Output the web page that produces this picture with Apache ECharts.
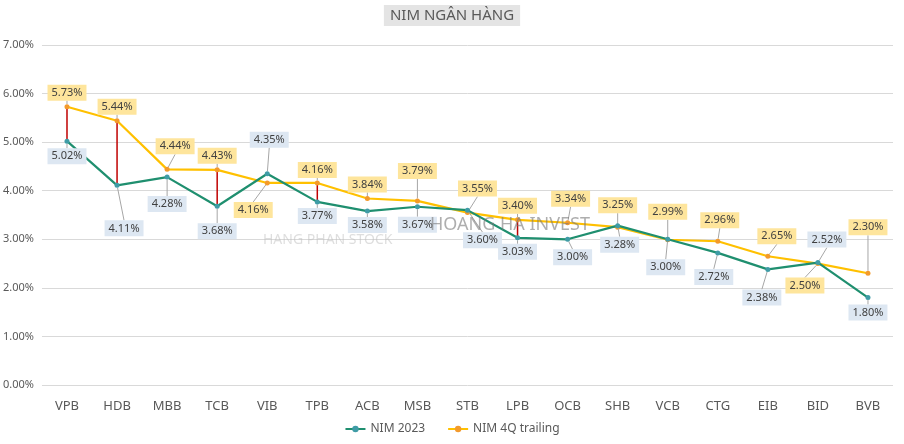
<!DOCTYPE html>
<html><head><meta charset="utf-8">
<script src="https://cdn.jsdelivr.net/npm/echarts@6/dist/echarts.min.js"></script>
<style>html,body{margin:0;padding:0;background:#fff}#c{width:904px;height:444px}</style>
</head><body><div id="c"></div>
<script>
var categories = ['VPB','HDB','MBB','TCB','VIB','TPB','ACB','MSB','STB','LPB','OCB','SHB','VCB','CTG','EIB','BID','BVB'];
var nim2023 = [5.02,4.11,4.28,3.68,4.35,3.77,3.58,3.67,3.60,3.03,3.00,3.28,3.00,2.72,2.38,2.52,1.80];
var nim4q = [5.73,5.44,4.44,4.43,4.16,4.16,3.84,3.79,3.55,3.40,3.34,3.25,2.99,2.96,2.65,2.50,2.30];
var highlighted = ['VPB','HDB','TCB','TPB','LPB'];
var yTicks = [0,1,2,3,4,5,6,7];

// label offsets (px) from each point
var offGreen = [[0,15],[7,43],[0,27],[0,25],[2,-34],[0,14],[0,14],[0,18],[15,30],[0,14],[5,18],[2,19],[-2,28],[-4,24],[-6,28],[9,-23],[0,15]];
var offYellow = [[0,-14],[0,-14],[8,-23],[0,-14],[-14,27],[0,-13],[0,-14],[0,-30],[10,-24],[0,-14],[3,-24],[0,-22],[0,-28],[2,-21],[9,-20],[-13,22],[0,-46]];

var FONT = 'Noto Sans';
var chart = echarts.init(document.getElementById('c'));

function layoutFn(offs){
  return function(p){
    var o = offs[p.dataIndex];
    return {
      x: p.rect.x + p.rect.width/2 + o[0],
      y: p.rect.y + p.rect.height/2 + o[1],
      align: 'center', verticalAlign: 'middle'
    };
  };
}

var redData = highlighted.map(function(c){
  var i = categories.indexOf(c);
  return [i, nim2023[i], nim4q[i]];
});

chart.setOption({
  animation: false,
  textStyle: {fontFamily: FONT},
  title: {
    text: 'NIM NGÂN HÀNG', left: 'center', top: 5,
    backgroundColor: '#e4e4e4', padding: [3, 6],
    textStyle: {fontFamily: FONT, fontSize: 15, fontWeight: 'normal', color: '#595959'}
  },
  legend: {
    bottom: 4, left: 'center', itemGap: 22, itemWidth: 20, itemHeight: 8,
    textStyle: {fontFamily: FONT, fontSize: 12, color: '#595959'},
    data: ['NIM 2023', 'NIM 4Q trailing']
  },
  grid: {left: 40, right: 11, top: 45, bottom: 59},
  xAxis: {
    type: 'category', data: categories,
    axisLine: {show: false}, axisTick: {show: false},
    axisLabel: {fontFamily: FONT, fontSize: 13, color: '#595959', margin: 15}
  },
  yAxis: {
    type: 'value', min: yTicks[0], max: yTicks[yTicks.length-1], interval: 1,
    axisLabel: {fontFamily: FONT, fontSize: 11, color: '#595959', margin: 8,
      formatter: function(v){ return v.toFixed(2) + '%'; }},
    splitLine: {lineStyle: {color: '#d9d9d9'}}
  },
  series: [
    {
      type: 'custom', name: 'diff', z: 1, silent: true,
      data: redData,
      renderItem: function(params, api){
        var a = api.coord([api.value(0), api.value(1)]);
        var b = api.coord([api.value(0), api.value(2)]);
        return {type: 'line', shape: {x1: a[0], y1: a[1], x2: b[0], y2: b[1]},
          style: {stroke: '#c00000', lineWidth: 1.5}};
      }
    },
    {
      name: 'NIM 2023', type: 'line', data: nim2023, z: 3,
      symbol: 'circle', symbolSize: 5,
      lineStyle: {color: '#1f8f6f', width: 2.2},
      itemStyle: {color: '#3f9ca6'},
      label: {show: true, position: 'inside', formatter: function(p){return p.value.toFixed(2)+'%';},
        fontFamily: FONT, fontSize: 11, color: '#404040', backgroundColor: '#dde7f2', padding: [3,4,2,4]},
      labelLine: {show: true, lineStyle: {color: '#a6a6a6', width: 1}},
      labelLayout: layoutFn(offGreen)
    },
    {
      name: 'NIM 4Q trailing', type: 'line', data: nim4q, z: 2,
      symbol: 'circle', symbolSize: 5,
      lineStyle: {color: '#ffc000', width: 2.2},
      itemStyle: {color: '#f39a2c'},
      label: {show: true, position: 'inside', formatter: function(p){return p.value.toFixed(2)+'%';},
        fontFamily: FONT, fontSize: 11, color: '#404040', backgroundColor: '#fee59c', padding: [3,4,2,4]},
      labelLine: {show: true, lineStyle: {color: '#a6a6a6', width: 1}},
      labelLayout: layoutFn(offYellow)
    }
  ],
  graphic: [
    {type: 'text', left: 430, top: 216, z: 100, silent: true,
      style: {text: 'HOANG HA INVEST', fontFamily: FONT, fontSize: 18, fill: 'rgba(120,120,120,0.6)'}},
    {type: 'text', left: 263, top: 233, z: 100, silent: true,
      style: {text: 'HANG PHAN STOCK', fontFamily: FONT, fontSize: 14, fill: 'rgba(190,190,190,0.5)'}}
  ]
});
</script></body></html>
